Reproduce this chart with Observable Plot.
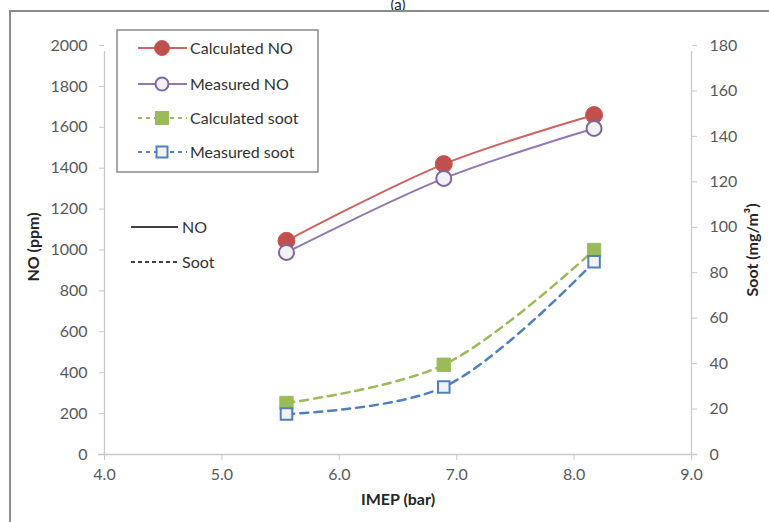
<!DOCTYPE html>
<html>
<head>
<meta charset="utf-8">
<script src="https://cdn.jsdelivr.net/npm/d3@7"></script>
<script src="https://cdn.jsdelivr.net/npm/@observablehq/plot@0.6"></script>
<style>
  html, body { margin: 0; padding: 0; background: white; }
  #chart svg { display: block; }
</style>
</head>
<body>
<div id="chart"></div>
<script>
// ---- data ----
const imep = [5.55, 6.89, 8.17];
const calcNO = [1045, 1420, 1660];
const measNO = [988, 1350, 1594];
const calcSoot = [22.7, 39.5, 90];
const measSoot = [17.8, 29.7, 84.8];

const xTicks = [4, 5, 6, 7, 8, 9];
const noTicks = [0, 200, 400, 600, 800, 1000, 1200, 1400, 1600, 1800, 2000];
const sootTicks = [0, 20, 40, 60, 80, 100, 120, 140, 160, 180];

const seriesNames = ["Calculated NO", "Measured NO", "Calculated soot", "Measured soot"];
const kindNames = ["NO", "Soot"];

// secondary (soot) axis is mapped onto the NO scale
const k = 2000 / 180;
const rows = imep.map((x, i) => ({
  imep: x,
  calcNO: calcNO[i],
  measNO: measNO[i],
  calcSoot: calcSoot[i] * k,
  measSoot: measSoot[i] * k
}));

const cRed = "#c0504d", cPurple = "#8064a2", cGreen = "#9bbb59", cBlue = "#4f81bd";
const axisGray = "#c8c8c8", tickText = "#595959";
const font = "Lato, 'Open Sans', sans-serif";

const svg = Plot.plot({
  width: 769,
  height: 522,
  marginLeft: 104,
  marginRight: 78,
  marginTop: 45,
  marginBottom: 68,
  x: { domain: [4, 9] },
  y: { domain: [0, 2000] },
  style: { fontFamily: font, fontSize: "16px", background: "white", overflow: "visible" },
  marks: [
    Plot.ruleY([0], { x1: 4, x2: 9, insetLeft: -6, insetRight: -6, stroke: axisGray, strokeWidth: 1.3 }),
    Plot.ruleX([4, 9], { y1: 0, y2: 2000, insetBottom: -6, stroke: axisGray, strokeWidth: 1.3 }),
    Plot.axisY(noTicks, { anchor: "left", tickSize: 5, tickPadding: 12, tickFormat: d => String(d), stroke: axisGray, fill: tickText, label: null }),
    Plot.axisY(sootTicks.map(v => v * k), { anchor: "right", tickSize: 5, tickPadding: 13, tickFormat: v => String(Math.round(v / k)), stroke: axisGray, fill: tickText, label: null }),
    Plot.axisX(xTicks, { anchor: "bottom", tickSize: 6, tickPadding: 8, tickFormat: d3.format(".1f"), stroke: axisGray, fill: tickText, label: null }),

    Plot.text(["NO (ppm)"], { text: d => d, frameAnchor: "left", textAnchor: "middle", dx: -71, dy: -3, rotate: -90, fontWeight: "bold", fill: "#262626", fontSize: 16 }),
    Plot.text(["Soot (mg/m³)"], { text: d => d, frameAnchor: "right", textAnchor: "middle", dx: 61, rotate: -90, fontWeight: "bold", fill: "#262626", fontSize: 16 }),
    Plot.text(["IMEP (bar)"], { text: d => d, frameAnchor: "bottom", dy: 50, fontWeight: "bold", fill: "#262626", fontSize: 16 }),
    Plot.text(["(a)"], { text: d => d, frameAnchor: "top", dy: -46, fill: "#262626", fontSize: 15 }),

    Plot.line(rows, { x: "imep", y: "calcNO", stroke: "#d06260", strokeWidth: 2, curve: "catmull-rom" }),
    Plot.dot(rows, { x: "imep", y: "calcNO", r: 8.5, fill: cRed, stroke: "#c85a57", strokeWidth: 1 }),
    Plot.line(rows, { x: "imep", y: "measNO", stroke: "#9079b5", strokeWidth: 2, curve: "catmull-rom" }),
    Plot.dot(rows, { x: "imep", y: "measNO", r: 7.5, fill: "#f2f2f2", stroke: cPurple, strokeWidth: 2 }),
    Plot.line(rows, { x: "imep", y: "calcSoot", stroke: cGreen, strokeWidth: 2.5, strokeDasharray: "8,6", curve: "catmull-rom" }),
    Plot.dot(rows, { x: "imep", y: "calcSoot", symbol: "square", r: 7.5, fill: cGreen, stroke: cGreen, strokeWidth: 1 }),
    Plot.line(rows, { x: "imep", y: "measSoot", stroke: cBlue, strokeWidth: 2.5, strokeDasharray: "8,6", curve: "catmull-rom" }),
    Plot.dot(rows, { x: "imep", y: "measSoot", symbol: "square", r: 6.5, fill: "#f2f2f2", stroke: cBlue, strokeWidth: 2 })
  ]
});

// ---- outer frame and legends (non-data decorations) ----
const s = d3.select(svg);
s.append("rect").attr("x", 10).attr("y", 11).attr("width", 800).attr("height", 560)
  .attr("fill", "none").attr("stroke", "#8a8a8a").attr("stroke-width", 2);

const lg = s.append("g").attr("font-family", font).attr("font-size", 16).attr("fill", "#333").attr("text-anchor", "start");
lg.append("rect").attr("x", 117).attr("y", 30).attr("width", 201).attr("height", 142)
  .attr("fill", "white").attr("stroke", "#8a8a8a").attr("stroke-width", 1.5);

const entries = [
  { name: seriesNames[0], y: 48, color: "#d06260", dash: null, sym: "circle", fill: cRed, stroke: "#c85a57", sw: 1, r: 7.5 },
  { name: seriesNames[1], y: 84, color: "#9079b5", dash: null, sym: "circle", fill: "#f2f2f2", stroke: cPurple, sw: 2, r: 6.5 },
  { name: seriesNames[2], y: 118, color: cGreen, dash: "4,4", sym: "square", fill: cGreen, stroke: cGreen, sw: 1, r: 6.5 },
  { name: seriesNames[3], y: 152, color: cBlue, dash: "4,4", sym: "square", fill: "#f2f2f2", stroke: cBlue, sw: 2, r: 5.5 }
];
for (const e of entries) {
  lg.append("line").attr("x1", 138).attr("x2", 187).attr("y1", e.y).attr("y2", e.y)
    .attr("stroke", e.color).attr("stroke-width", 2).attr("stroke-dasharray", e.dash);
  if (e.sym === "circle") {
    lg.append("circle").attr("cx", 162).attr("cy", e.y).attr("r", e.r)
      .attr("fill", e.fill).attr("stroke", e.stroke).attr("stroke-width", e.sw);
  } else {
    lg.append("rect").attr("x", 162 - e.r).attr("y", e.y - e.r).attr("width", 2 * e.r).attr("height", 2 * e.r)
      .attr("fill", e.fill).attr("stroke", e.stroke).attr("stroke-width", e.sw);
  }
  lg.append("text").attr("x", 190).attr("y", e.y).attr("dy", "0.35em").text(e.name);
}

const lg2 = s.append("g").attr("font-family", font).attr("font-size", 16).attr("fill", "#333").attr("text-anchor", "start");
lg2.append("line").attr("x1", 131).attr("x2", 178).attr("y1", 227).attr("y2", 227)
  .attr("stroke", "#404040").attr("stroke-width", 2);
lg2.append("text").attr("x", 182).attr("y", 227).attr("dy", "0.35em").text(kindNames[0]);
lg2.append("line").attr("x1", 131).attr("x2", 178).attr("y1", 262).attr("y2", 262)
  .attr("stroke", "#404040").attr("stroke-width", 2).attr("stroke-dasharray", "4,3");
lg2.append("text").attr("x", 182).attr("y", 262).attr("dy", "0.35em").text(kindNames[1]);

document.getElementById("chart").appendChild(svg);
</script>
</body>
</html>
